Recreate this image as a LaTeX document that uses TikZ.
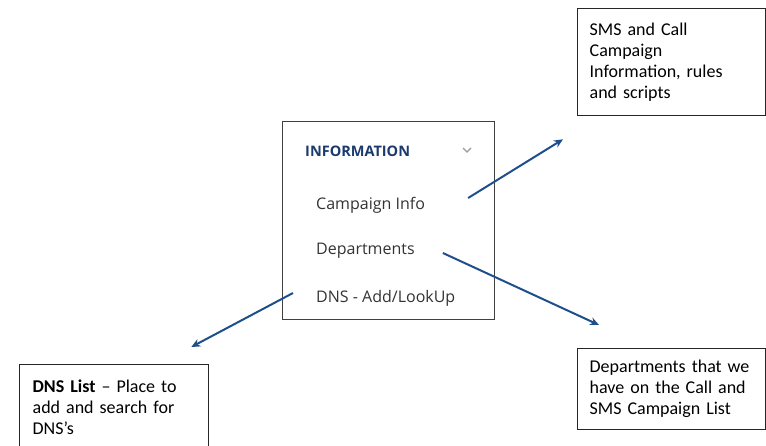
\documentclass[tikz,border=0pt]{standalone}
\usepackage{fontspec}
\setmainfont{Carlito}
\newfontfamily\menufont{Open Sans}
\usetikzlibrary{arrows.meta}
\definecolor{menunavy}{HTML}{1B3A6E}
\definecolor{linkblue}{HTML}{1F4E8C}

\begin{document}
\begin{tikzpicture}[x=1pt, y=-1pt,
        box/.style={draw=black!85, line width=1.3pt, anchor=north west, align=left,
            text width=164pt, inner xsep=12pt, font=\fontsize{18}{21}\selectfont},
        item/.style={anchor=west, inner sep=0pt, text=black!80,
            font=\menufont\fontsize{16}{19}\selectfont},
        link/.style={draw=linkblue, line width=2pt, -{Stealth[length=9pt,width=8pt]}}
    ]
    \useasboundingbox (0,0) rectangle (766,446);

    % menu panel
    \node[draw=black!75, line width=1.2pt, minimum width=212pt, minimum height=198pt,
        anchor=north west] (menu) at (282,121) {};
    \node[anchor=west, inner sep=0pt, text=menunavy,
        font=\menufont\bfseries\fontsize{14.5}{17}\selectfont] (head) at (305,151) {INFORMATION};
    \draw[black!40, line width=1.3pt] (463,148) -- (467,152) -- (471,148);
    \node[item] (info) at (316,205) {Campaign Info};
    \node[item] (dept) at (316,251) {Departments};
    \node[item] (dns) at (316,298) {DNS - Add/LookUp};

    % description boxes
    \node[box, minimum height=107pt] (sms) at (577,8)
        {SMS and Call\\Campaign\\Information, rules\\and scripts};
    \node[box, minimum height=81pt] (deptlist) at (577,348)
        {Departments that we\\have on the Call and\\SMS Campaign List};
    \node[box, minimum height=86pt, text width=163pt, inner xsep=13pt] (dnslist) at (19,364)
        {\textbf{DNS List} -- Place to\\add and search for\\DNS's};

    % arrows
    \coordinate (smstip) at ([shift={(-14,23)}]sms.south west);
    \coordinate (depttip) at ([shift={(22,-23)}]deptlist.north west);
    \coordinate (dnstip) at ([shift={(-18,-17)}]dnslist.north east);
    \draw[link] ([shift={(43,-7)}]info.east) -- (smstip);
    \draw[link] ([shift={(28,2)}]dept.east) -- (depttip);
    \draw[link] ([shift={(-23,-5)}]dns.west) -- (dnstip);
\end{tikzpicture}
\end{document}
